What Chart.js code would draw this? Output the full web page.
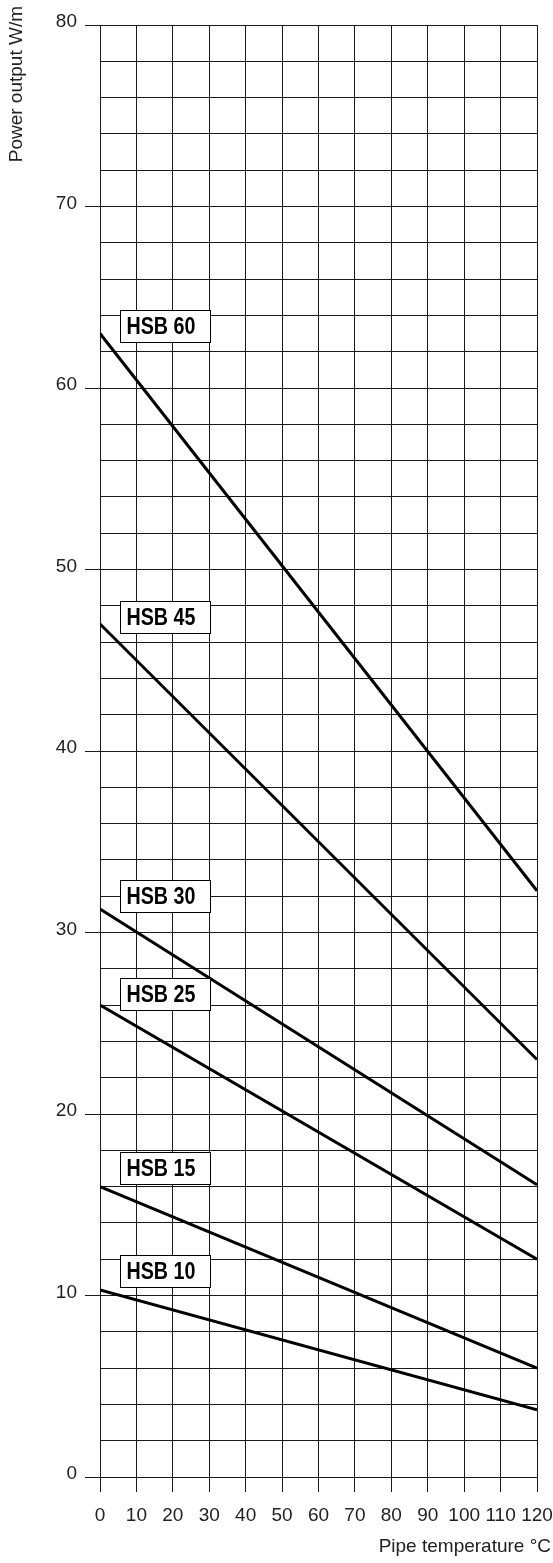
<!DOCTYPE html>
<html>
<head>
<meta charset="utf-8">
<script src="https://cdn.jsdelivr.net/npm/chart.js@4/dist/chart.umd.min.js"></script>
<style>
  html, body { margin: 0; padding: 0; background: #fff; }
  #wrap { width: 553px; height: 1563px; position: relative; }
  canvas { display: block; }
</style>
</head>
<body>
<div id="wrap"><canvas id="c" width="553" height="1563"></canvas></div>
<script>
// ---- data ----
const temperatures = [0, 120];            // Pipe temperature °C (line end points)
const seriesNames = ["HSB 60", "HSB 45", "HSB 30", "HSB 25", "HSB 15", "HSB 10"];
const hsb60 = [63.0, 32.3];
const hsb45 = [47.0, 23.0];
const hsb30 = [31.3, 16.1];
const hsb25 = [26.0, 12.0];
const hsb15 = [16.0, 6.0];
const hsb10 = [10.3, 3.7];
const seriesValues = [hsb60, hsb45, hsb30, hsb25, hsb15, hsb10];
const xTicks = [0, 10, 20, 30, 40, 50, 60, 70, 80, 90, 100, 110, 120];
const yTickLabels = [0, 10, 20, 30, 40, 50, 60, 70, 80];
const xTitle = "Pipe temperature °C";
const yTitle = "Power output W/m";

// label anchors (data units): x of left edge, y of box centre
const labelAnchorX = 5.5;
const labelAnchorY = [63.4, 47.4, 32.0, 26.6, 17.0, 11.35];

const INK = '#1a1a1a';
const TEXT = '#222';

const datasets = seriesNames.map((name, i) => ({
  label: name,
  data: temperatures.map((t, j) => ({ x: t, y: seriesValues[i][j] })),
  borderColor: '#000',
  borderWidth: 3,
  pointRadius: 0,
  fill: false,
  tension: 0
}));

const labelPlugin = {
  id: 'seriesLabels',
  afterDatasetsDraw(chart) {
    const { ctx, scales: { x, y } } = chart;
    ctx.save();
    seriesNames.forEach((name, i) => {
      const left = Math.round(x.getPixelForValue(labelAnchorX)) + 0.5;
      const cy = y.getPixelForValue(labelAnchorY[i]);
      const w = 90, h = 32;
      const top = Math.round(cy - h / 2) + 0.5;
      ctx.fillStyle = '#fff';
      ctx.fillRect(left, top, w, h);
      ctx.strokeStyle = '#000';
      ctx.lineWidth = 1;
      ctx.strokeRect(left, top, w, h);
      // condensed bold text (horizontal squeeze)
      ctx.save();
      ctx.translate(left + 6, top + h / 2 + 1);
      ctx.scale(0.82, 1);
      ctx.font = 'bold 24px "Liberation Sans", Arial, sans-serif';
      ctx.fillStyle = '#000';
      ctx.textAlign = 'left';
      ctx.textBaseline = 'middle';
      ctx.fillText(name, 0, 0);
      ctx.restore();
    });
    ctx.restore();
  }
};

const titlePlugin = {
  id: 'axisTitles',
  afterDraw(chart) {
    const { ctx } = chart;
    ctx.save();
    ctx.fillStyle = TEXT;
    ctx.font = '19px "Liberation Sans", Arial, sans-serif';
    ctx.textBaseline = 'middle';
    ctx.textAlign = 'right';
    ctx.fillText(xTitle, 551, 1547);
    ctx.translate(17, 6);
    ctx.rotate(-Math.PI / 2);
    ctx.textAlign = 'right';
    ctx.fillText(yTitle, 0, 0);
    ctx.restore();
  }
};

new Chart(document.getElementById('c'), {
  type: 'line',
  data: { datasets },
  options: {
    responsive: false,
    animation: false,
    devicePixelRatio: 1,
    layout: { padding: { top: 25, right: 16, left: 0, bottom: 0 } },
    plugins: { legend: { display: false }, tooltip: { enabled: false } },
    scales: {
      x: {
        type: 'linear',
        min: 0, max: 120,
        afterBuildTicks(s) { s.ticks = xTicks.map(v => ({ value: v })); },
        ticks: {
          autoSkip: false, maxRotation: 0, minRotation: 0,
          color: TEXT,
          font: { family: '"Liberation Sans", Arial, sans-serif', size: 19 },
          padding: 12,
          callback: v => String(v)
        },
        grid: { color: INK, lineWidth: 1, tickLength: 15, tickColor: INK },
        border: { display: true, color: INK, width: 1 },
        afterFit(s) { s.height = 86; s.paddingLeft = 0; s.paddingRight = 0; }
      },
      y: {
        type: 'linear',
        min: 0, max: 80,
        ticks: {
          stepSize: 2,
          autoSkip: false,
          color: TEXT,
          font: { family: '"Liberation Sans", Arial, sans-serif', size: 19 },
          padding: 8,
          labelOffset: -3,
          callback: v => (yTickLabels.includes(v) ? String(v) : '')
        },
        grid: {
          color: INK, lineWidth: 1, tickLength: 15,
          tickColor: c => (c.tick && yTickLabels.includes(c.tick.value) ? INK : 'rgba(0,0,0,0)')
        },
        border: { display: true, color: INK, width: 1 },
        afterFit(s) { s.width = 100; s.paddingTop = 0; s.paddingBottom = 0; }
      }
    }
  },
  plugins: [labelPlugin, titlePlugin]
});
</script>
</body>
</html>
